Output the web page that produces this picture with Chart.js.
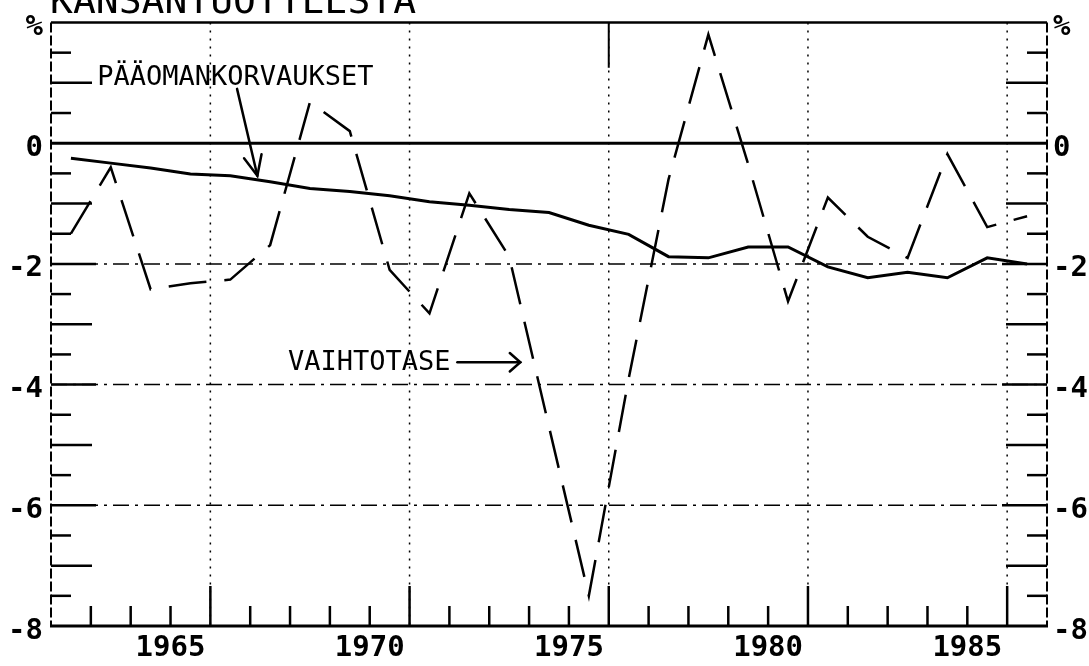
<!DOCTYPE html>
<html>
<head>
<meta charset="utf-8">
<script src="https://cdn.jsdelivr.net/npm/chart.js@4"></script>
<style>
html,body{margin:0;padding:0;background:#fff;}
canvas{display:block;}
</style>
</head>
<body>
<canvas id="c" width="1089" height="666"></canvas>
<script>
// ---- data ----
const years = [1962,1963,1964,1965,1966,1967,1968,1969,1970,1971,1972,1973,1974,1975,1976,1977,1978,1979,1980,1981,1982,1983,1984,1985,1986];
const vaihtotase = [-1.5,-0.4,-2.42,-2.32,-2.26,-1.69,0.68,0.2,-2.1,-2.82,-0.83,-1.88,-4.7,-7.5,-3.9,-0.6,1.8,-0.35,-2.62,-0.9,-1.55,-1.9,-0.18,-1.39,-1.21];
const paaomankorvaukset = [-0.25,-0.33,-0.41,-0.51,-0.54,-0.64,-0.75,-0.8,-0.87,-0.97,-1.03,-1.1,-1.15,-1.36,-1.51,-1.88,-1.9,-1.72,-1.72,-2.05,-2.23,-2.14,-2.23,-1.9,-2.0];
const xTickLabels = [1965,1970,1975,1980,1985];
const yTickValues = [-8,-6,-4,-2,0,2];
const gridYears = [1966,1971,1976,1981,1986];
const titleText = 'KANSANTUOTTEESTA';
const seriesNames = ['PÄÄOMANKORVAUKSET','VAIHTOTASE'];
const unitLabel = '%';

const FONT = '"DejaVu Sans Mono", "Liberation Mono", monospace';

// annotation placement (data units)
const annotations = [
  {text: seriesNames[0], tx: 1963.16, ty: 0.97, from: [1966.67, 0.90], to: [1967.18, -0.54], headLen: 22, headAng: 0.42},
  {text: seriesNames[1], tx: 1967.95, ty: -3.76, from: [1972.2, -3.63], to: [1973.78, -3.63], headLen: 14, headAng: 0.72}
];

const framePlugin = {
  id: 'frame',
  beforeDatasetsDraw(chart) {
    const {ctx, chartArea: a} = chart;
    const x = chart.scales.x, y = chart.scales.y;
    ctx.save();
    ctx.strokeStyle = '#000';
    const line = (x1, y1, x2, y2, w, dash) => {
      ctx.beginPath();
      ctx.setLineDash(dash || []);
      ctx.lineWidth = w;
      ctx.moveTo(x1, y1); ctx.lineTo(x2, y2);
      ctx.stroke();
    };
    // dash-dot horizontal grid
    [-2, -4, -6].forEach(v => {
      const py = y.getPixelForValue(v);
      line(a.left, py, a.right, py, 1.5, [16, 6, 3, 6]);
    });
    // dotted vertical grid
    gridYears.forEach(g => {
      const px = x.getPixelForValue(g);
      line(px, a.top, px, a.bottom, 1.5, [2, 6]);
    });
    // short solid piece at top of 1976 gridline
    {
      const px = x.getPixelForValue(1976);
      line(px, a.top, px, y.getPixelForValue(1.25), 2);
    }
    // frame
    line(a.left, a.top, a.right, a.top, 2.5);
    const p0 = y.getPixelForValue(0);
    line(a.left, p0, a.right, p0, 3);
    line(a.left - 1, a.bottom, a.right + 1, a.bottom, 3);
    line(a.left, a.top, a.left, a.bottom, 2, [10, 3]);
    line(a.right, a.top, a.right, a.bottom, 2, [10, 3]);
    // bottom year ticks
    for (let yr = years[0] + 1; yr < 1987; yr++) {
      const px = x.getPixelForValue(yr);
      const L = gridYears.includes(yr) ? 40 : 20;
      line(px, a.bottom, px, a.bottom - L, 2.5);
    }
    // side ticks every 0.5
    for (let k = -15; k <= 3; k++) {
      if (k === 0) continue;
      const v = k / 2;
      const py = y.getPixelForValue(v);
      let L;
      if (k % 2 !== 0) L = 20; else if (v % 2 === 0) L = 45; else L = 41;
      line(a.left, py, a.left + L, py, 2.5);
      line(a.right, py, a.right - L, py, 2.5);
    }
    ctx.restore();
  },
  afterDatasetsDraw(chart) {
    const {ctx, chartArea: a} = chart;
    const x = chart.scales.x, y = chart.scales.y;
    ctx.save();
    ctx.fillStyle = '#000';
    ctx.strokeStyle = '#000';
    ctx.setLineDash([]);
    ctx.lineWidth = 2.5;
    ctx.lineCap = 'round';
    ctx.font = '27px ' + FONT;
    ctx.textBaseline = 'alphabetic';
    ctx.textAlign = 'left';
    annotations.forEach(an => {
      ctx.fillText(an.text, x.getPixelForValue(an.tx), y.getPixelForValue(an.ty));
      const x1 = x.getPixelForValue(an.from[0]), y1 = y.getPixelForValue(an.from[1]);
      const x2 = x.getPixelForValue(an.to[0]), y2 = y.getPixelForValue(an.to[1]);
      ctx.beginPath(); ctx.moveTo(x1, y1); ctx.lineTo(x2, y2); ctx.stroke();
      const ang = Math.atan2(y1 - y2, x1 - x2);
      ctx.beginPath();
      ctx.moveTo(x2 + an.headLen * Math.cos(ang + an.headAng), y2 + an.headLen * Math.sin(ang + an.headAng));
      ctx.lineTo(x2, y2);
      ctx.lineTo(x2 + an.headLen * Math.cos(ang - an.headAng), y2 + an.headLen * Math.sin(ang - an.headAng));
      ctx.stroke();
    });
    // title (cut off at top)
    ctx.font = '38px ' + FONT;
    ctx.fillText(titleText, a.left - 1, 13);
    ctx.restore();
  }
};

const tickFont = {family: FONT, size: 29, weight: 'bold', lineHeight: 1};
const yTicks = (side) => ({
  type: 'linear',
  position: side,
  min: -8, max: 2,
  afterBuildTicks: s => { s.ticks = yTickValues.map(v => ({value: v})); },
  afterFit: s => { s.width = side === 'left' ? 51 : 42; },
  ticks: {
    callback: v => (v === 2 ? unitLabel : String(v)),
    font: tickFont, color: '#000', padding: side === 'left' ? 8 : 6, labelOffset: 5
  },
  grid: {display: false, drawTicks: false},
  border: {display: false}
});

new Chart(document.getElementById('c'), {
  type: 'line',
  data: {
    datasets: [
      {
        label: seriesNames[0],
        data: years.map((yr, i) => ({x: yr + 0.5, y: paaomankorvaukset[i]})),
        borderColor: '#000', borderWidth: 3, pointRadius: 0, tension: 0, fill: false
      },
      {
        label: seriesNames[1],
        data: years.map((yr, i) => ({x: yr + 0.5, y: vaihtotase[i]})),
        borderColor: '#000', borderWidth: 2.5, borderDash: [38, 18], pointRadius: 0, tension: 0, fill: false
      }
    ]
  },
  options: {
    responsive: false,
    animation: false,
    devicePixelRatio: 1,
    layout: {padding: {top: 15, left: 0, right: 0, bottom: 0}},
    plugins: {legend: {display: false}, tooltip: {enabled: false}, title: {display: false}},
    scales: {
      x: {
        type: 'linear',
        position: 'bottom',
        min: 1962, max: 1987,
        afterBuildTicks: s => { s.ticks = xTickLabels.map(v => ({value: v})); },
        afterFit: s => { s.height = 40; },
        ticks: {callback: v => String(v), font: tickFont, color: '#000', padding: 8, maxRotation: 0, autoSkip: false},
        grid: {display: false, drawTicks: false},
        border: {display: false}
      },
      y: yTicks('left'),
      y2: yTicks('right')
    }
  },
  plugins: [framePlugin]
});
</script>
</body>
</html>
